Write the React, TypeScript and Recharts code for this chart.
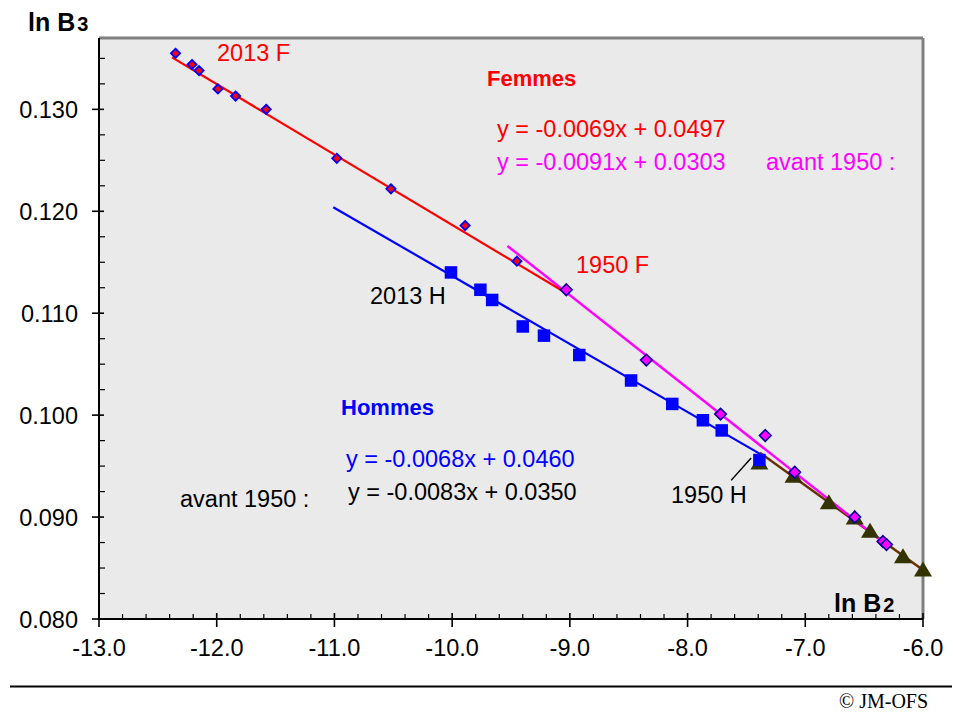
import React from 'react';
import { ComposedChart, XAxis, YAxis, Scatter, Line, CartesianGrid, ReferenceLine } from 'recharts';

// ---- Data ----
// Femmes 1950-2013 (red diamonds)
const femmesX = [-12.35, -12.21, -12.15, -11.99, -11.84, -11.58, -10.98, -10.52, -9.89, -9.45];
const femmesY = [0.1355, 0.1344, 0.1338, 0.1320, 0.1313, 0.1300, 0.1252, 0.1222, 0.1186, 0.1151];
// Femmes avant 1950 (pink diamonds, incl. 1950 F)
const femmesAvX = [-9.03, -8.35, -7.72, -7.34, -7.09, -6.58, -6.34, -6.31];
const femmesAvY = [0.1123, 0.1054, 0.1001, 0.0980, 0.0944, 0.0900, 0.0876, 0.0873];
// Hommes 1950-2013 (blue squares)
const hommesX = [-10.01, -9.76, -9.66, -9.40, -9.22, -8.92, -8.48, -8.13, -7.87, -7.71, -7.39];
const hommesY = [0.1140, 0.1123, 0.1113, 0.1087, 0.1078, 0.1059, 0.1034, 0.1011, 0.0995, 0.0985, 0.0956];
// Hommes avant 1950 (dark triangles)
const hommesAvX = [-7.39, -7.10, -6.80, -6.58, -6.45, -6.17, -6.00];
const hommesAvY = [0.0953, 0.0940, 0.0914, 0.0899, 0.0886, 0.0861, 0.0848];

// Trend lines (end points)
const redLineX = [-12.38, -9.05];
const redLineY = [0.1351, 0.1121];
const magentaLineX = [-9.53, -6.32];
const magentaLineY = [0.1166, 0.08735];
const blueLineX = [-11.01, -7.385];
const blueLineY = [0.1204, 0.0962];
const brownLineX = [-7.385, -6.0];
const brownLineY = [0.0963, 0.0848];
const leaderX = [-7.46, -7.63];
const leaderY = [0.0958, 0.0936];

// Axes
const xMajorTicks = [-13, -12, -11, -10, -9, -8, -7, -6];
const yMajorTicks = [0.08, 0.09, 0.1, 0.11, 0.12, 0.13];
const xDomain = [-13, -6];
const yDomain = [0.08, 0.137];

const zip = (xs: number[], ys: number[]) => xs.map((x, i) => ({ x, y: ys[i] }));

const xAllTicks: number[] = [];
for (let i = 0; i <= 35; i++) xAllTicks.push(Math.round((-13 + i * 0.2) * 10000) / 10000);
const yAllTicks: number[] = [];
for (let i = 0; i <= 22; i++) yAllTicks.push(Math.round((0.08 + i * 0.0025) * 100000) / 100000);

const isMajor = (list: number[], v: number) => list.some((m) => Math.abs(m - v) < 1e-7);

const FONT = '"Liberation Sans", Arial, Helvetica, sans-serif';
const TICK_FS = 23.5;

const XTick = (props: any) => {
  const { x, y, payload } = props;
  const v = payload.value;
  const major = isMajor(xMajorTicks, v);
  return (
    <g>
      {major ? (
        <line x1={x} x2={x} y1={y - 6} y2={y + 8} stroke="#000" strokeWidth={1.6} />
      ) : (
        <line x1={x} x2={x} y1={y - 5} y2={y} stroke="#000" strokeWidth={1.2} />
      )}
      {major && (
        <text x={x} y={y + 37} textAnchor="middle" fontSize={TICK_FS} fontFamily={FONT} fill="#000">
          {v.toFixed(1)}
        </text>
      )}
    </g>
  );
};

const YTick = (props: any) => {
  const { x, y, payload } = props;
  const v = payload.value;
  const major = isMajor(yMajorTicks, v);
  return (
    <g>
      {major ? (
        <line x1={x - 7} x2={x + 5} y1={y} y2={y} stroke="#000" strokeWidth={1.6} />
      ) : (
        <line x1={x} x2={x + 6} y1={y} y2={y} stroke="#000" strokeWidth={1.2} />
      )}
      {major && (
        <text x={x - 21} y={y + 8.5} textAnchor="end" fontSize={TICK_FS} fontFamily={FONT} fill="#000">
          {v.toFixed(3)}
        </text>
      )}
    </g>
  );
};

const RedDiamond = (p: any) => {
  const { cx, cy } = p;
  const r = 4.6;
  return (
    <path d={`M${cx},${cy - r}L${cx + r},${cy}L${cx},${cy + r}L${cx - r},${cy}Z`} fill="#FF0000" stroke="#0000FF" strokeWidth={1.8} />
  );
};
const PinkDiamond = (p: any) => {
  const { cx, cy } = p;
  const r = 5.8;
  return (
    <path d={`M${cx},${cy - r}L${cx + r},${cy}L${cx},${cy + r}L${cx - r},${cy}Z`} fill="#FF00FF" stroke="#000099" strokeWidth={1.6} />
  );
};
const BlueSquare = (p: any) => {
  const { cx, cy } = p;
  const s = 12.5;
  return <rect x={cx - s / 2} y={cy - s / 2} width={s} height={s} fill="#0000FF" />;
};
const Triangle = (p: any) => {
  const { cx, cy } = p;
  return <path d={`M${cx},${cy - 8.5}L${cx + 9},${cy + 6.5}L${cx - 9},${cy + 6.5}Z`} fill="#333300" />;
};

const T = (props: any) => <text fontFamily={FONT} fontSize={TICK_FS} {...props} />;

export default function App() {
  return (
    <div style={{ position: 'absolute', left: 0, top: 0, width: 953, height: 713, background: '#fff' }}>
      <ComposedChart
        width={953}
        height={713}
        margin={{ top: 38, right: 30, bottom: 34, left: 0 }}
      >
        <CartesianGrid horizontal={false} vertical={false} fill="#EAEAEA" stroke="none" />
        <XAxis
          type="number"
          dataKey="x"
          domain={xDomain}
          ticks={xAllTicks}
          interval={0}
          height={60}
          tickSize={0}
          tickMargin={0}
          tickLine={false}
          tick={<XTick />}
          axisLine={{ stroke: '#000', strokeWidth: 2 }}
        />
        <YAxis
          type="number"
          dataKey="y"
          domain={yDomain}
          ticks={yAllTicks}
          interval={0}
          width={99}
          tickSize={0}
          tickMargin={0}
          tickLine={false}
          tick={<YTick />}
          axisLine={{ stroke: '#000', strokeWidth: 2 }}
        />
        <ReferenceLine y={0.137} stroke="#808080" strokeWidth={3} />
        <ReferenceLine x={-6} stroke="#808080" strokeWidth={3} />

        <Scatter data={zip(hommesAvX, hommesAvY)} shape={<Triangle />} isAnimationActive={false} />
        <Line data={zip(brownLineX, brownLineY)} dataKey="y" stroke="#663300" strokeWidth={2.5} dot={false} isAnimationActive={false} />
        <Scatter data={zip(hommesX, hommesY)} shape={<BlueSquare />} isAnimationActive={false} />
        <Line data={zip(blueLineX, blueLineY)} dataKey="y" stroke="#0000FF" strokeWidth={2.2} dot={false} isAnimationActive={false} />
        <Scatter data={zip(femmesAvX, femmesAvY)} shape={<PinkDiamond />} isAnimationActive={false} />
        <Line data={zip(magentaLineX, magentaLineY)} dataKey="y" stroke="#FF00FF" strokeWidth={2.4} dot={false} isAnimationActive={false} />
        <Scatter data={zip(femmesX, femmesY)} shape={<RedDiamond />} isAnimationActive={false} />
        <Line data={zip(redLineX, redLineY)} dataKey="y" stroke="#FF0000" strokeWidth={2.2} dot={false} isAnimationActive={false} />
        <Line data={zip(leaderX, leaderY)} dataKey="y" stroke="#000" strokeWidth={1.5} dot={false} isAnimationActive={false} />
      </ComposedChart>

      <svg width={953} height={713} style={{ position: 'absolute', left: 0, top: 0, pointerEvents: 'none' }}>
        <text x={28} y={31} fontFamily={FONT} fontWeight="bold" fontSize={25} fill="#000">
          ln B<tspan fontSize={20} dx={2}>3</tspan>
        </text>
        <text x={834} y={612} fontFamily={FONT} fontWeight="bold" fontSize={25} fill="#000">
          ln B<tspan fontSize={20} dx={2}>2</tspan>
        </text>

        <T x={217} y={60.5} fill="#FF0000">2013 F</T>
        <T x={487} y={86} fill="#FF0000" fontWeight="bold" fontSize={22}>Femmes</T>
        <T x={497} y={136.5} fill="#FF0000">y = -0.0069x + 0.0497</T>
        <T x={497} y={170} fill="#FF00FF">y = -0.0091x + 0.0303</T>
        <T x={766} y={170} fill="#FF00FF">avant 1950 :</T>
        <T x={576} y={273} fill="#FF0000">1950 F</T>
        <T x={370} y={304} fill="#000">2013 H</T>
        <T x={341} y={415} fill="#0000FF" fontWeight="bold" fontSize={22}>Hommes</T>
        <T x={346} y={466.5} fill="#0000FF">y = -0.0068x + 0.0460</T>
        <T x={348} y={500} fill="#000">y = -0.0083x + 0.0350</T>
        <T x={180} y={507} fill="#000">avant 1950 :</T>
        <T x={671} y={503} fill="#000">1950 H</T>

        <line x1={10} x2={952} y1={686.5} y2={686.5} stroke="#000" strokeWidth={2} />
        <text x={839} y={708} fontFamily='"Liberation Serif", "Times New Roman", serif' fontSize={20} fill="#000">
          © JM-OFS
        </text>
      </svg>
    </div>
  );
}
